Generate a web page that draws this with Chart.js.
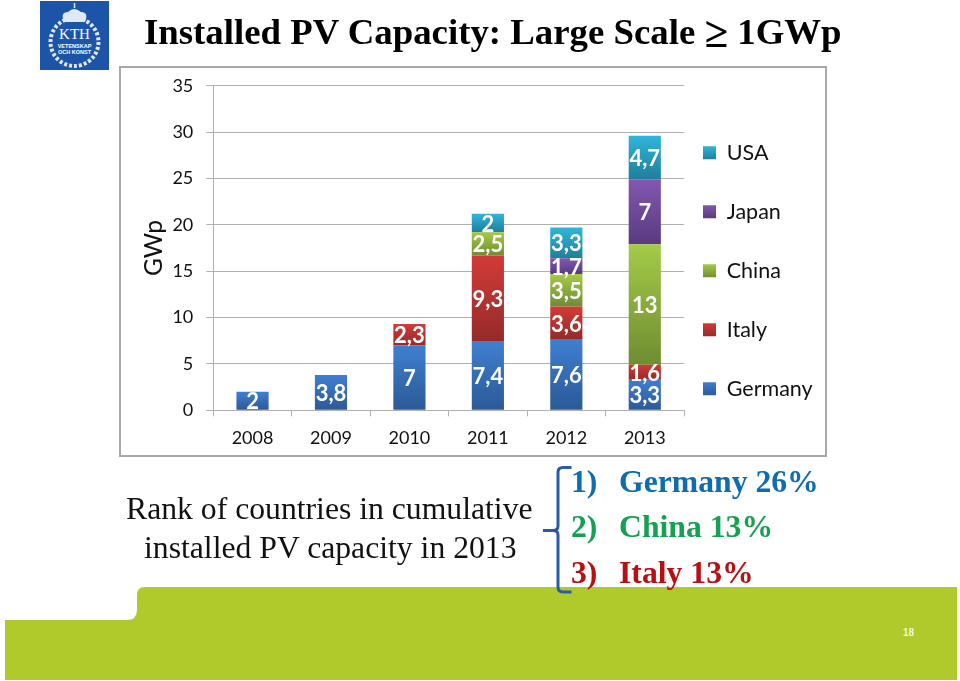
<!DOCTYPE html>
<html>
<head>
<meta charset="utf-8">
<title>Installed PV Capacity</title>
<script src="https://cdn.jsdelivr.net/npm/chart.js@4"></script>
<style>
  html, body { margin: 0; padding: 0; background: #fff; }
  #slide { position: relative; width: 960px; height: 681px; overflow: hidden; font-family: "Liberation Serif", serif; }
  #slide svg { position: absolute; left: 0; top: 0; }
  .txt { position: absolute; white-space: nowrap; line-height: 1; }
  #title { left: 144px; top: 14px; font-size: 36.8px; font-weight: bold; color: #000; }
  #title b { font-size: 43px; line-height: 0; position: relative; top: 3px; }
  #rank1 { left: 126px; top: 493px; font-size: 31.7px; color: #111; }
  #rank2 { left: 144px; top: 532px; font-size: 31.7px; color: #111; }
  .item { font-size: 31.7px; font-weight: bold; }
  .item span { position: absolute; left: 48px; }
  #page { left: 903px; top: 627px; font: bold 10px "Liberation Sans", sans-serif; color: #f6f8d0; }
  #frame { position: absolute; left: 119px; top: 66px; width: 704px; height: 387px; border: 2px solid #a8a8a8; background: #fff; box-sizing: content-box; }
  #frame canvas { display: block; }
</style>
</head>
<body>
<div id="slide">
  <svg width="960" height="681">
    <path d="M5 620 H127 Q137 620 137 610 V595 Q137 587 145 587 H957 V680 H5 Z" fill="#b0ca2b"/>
    <rect x="40" y="1" width="69" height="69" fill="#1c54a8"/>
    <circle cx="74.5" cy="42" r="24" fill="none" stroke="#dfe8f5" stroke-width="4" stroke-dasharray="3 2"/>
    <path d="M64 22 Q60 12 68 12 Q74 6 81 12 Q89 12 85 22 Z" fill="#dfe8f5"/>
    <path d="M74.5 3 V8" stroke="#dfe8f5" stroke-width="1.5"/>
    <text x="74.5" y="39" text-anchor="middle" font-family="Liberation Serif" font-size="15" fill="#fff">KTH</text>
    <text x="74.5" y="47.5" text-anchor="middle" font-family="Liberation Sans" font-size="5.5" font-weight="bold" fill="#fff">VETENSKAP</text>
    <text x="74.5" y="53.5" text-anchor="middle" font-family="Liberation Sans" font-size="5.5" font-weight="bold" fill="#fff">OCH KONST</text>
  </svg>
  <div id="frame"><canvas id="chartPV" width="704" height="387"></canvas></div>
  <svg width="960" height="681" style="pointer-events:none">
    <path d="M571.5 467.5 H563 Q558 467.5 558 472 V526 Q558 530.5 553 530.5 H543 M553 530.5 Q558 530.5 558 535 V587 Q558 592 563 592 H571.5" fill="none" stroke="#2a5aa8" stroke-width="3"/>
  </svg>
  <div class="txt" id="title">Installed PV Capacity: Large Scale <b>≥</b> 1GWp</div>
  <div class="txt" id="rank1">Rank of countries in cumulative</div>
  <div class="txt" id="rank2">installed PV capacity in 2013</div>
  <div class="txt item" style="left:571px;top:466px;color:#0f6cb0">1)<span>Germany&nbsp;26%</span></div>
  <div class="txt item" style="left:571px;top:511px;color:#16a052">2)<span>China&nbsp;13%</span></div>
  <div class="txt item" style="left:571px;top:557px;color:#b80f12">3)<span>Italy&nbsp;13%</span></div>
  <div class="txt" id="page">18</div>
</div>
<script>
// --- Datos ---
const years = ['2008', '2009', '2010', '2011', '2012', '2013'];
const germany = [2, 3.8, 7, 7.4, 7.6, 3.3];
const italy = [null, null, 2.3, 9.3, 3.6, 1.6];
const china = [null, null, null, 2.5, 3.5, 13];
const japan = [null, null, null, null, 1.7, 7];
const usa = [null, null, null, 2, 3.3, 4.7];
const yTicks = [0, 5, 10, 15, 20, 25, 30, 35];

const seriesNames = ['Germany', 'Italy', 'China', 'Japan', 'USA'];
const seriesValues = [germany, italy, china, japan, usa];
const seriesTop = ['#3f7fd0', '#d23b38', '#a4cb48', '#8257b2', '#30b6da'];
const seriesBottom = ['#2b5996', '#942a28', '#6f8c32', '#593a7f', '#1f7e9a'];

const LABEL_FONT = 'Lato, Carlito, sans-serif';

// Base de cada segmento dentro de la pila
function stackBase(ds, i) {
    return seriesValues.slice(0, ds).reduce((sum, v) => sum + (v[i] || 0), 0);
}

function verticalGradient(ctx, top, bottom, ds) {
    const g = ctx.createLinearGradient(0, top, 0, bottom);
    g.addColorStop(0, seriesTop[ds]);
    g.addColorStop(1, seriesBottom[ds]);
    return g;
}

// Relleno con degradado por segmento
function segmentFill(context) {
    const ds = context.datasetIndex;
    const i = context.dataIndex;
    const y = context.chart.scales.y;
    if (i === undefined || !y) return seriesTop[ds];
    const base = stackBase(ds, i);
    const top = y.getPixelForValue(base + (seriesValues[ds][i] || 0));
    const bottom = y.getPixelForValue(base);
    // La leyenda pide el estilo antes de que exista la escala
    if (!isFinite(top) || !isFinite(bottom)) return seriesTop[ds];
    return verticalGradient(context.chart.ctx, top, bottom, ds);
}

// Etiquetas blancas dentro de las barras, con coma decimal
const barLabels = {
    id: 'barLabels',
    afterDatasetsDraw(chart) {
        const ctx = chart.ctx;
        ctx.save();
        ctx.font = 'bold 22px ' + LABEL_FONT;
        ctx.fillStyle = '#fff';
        ctx.textAlign = 'center';
        ctx.textBaseline = 'middle';
        seriesValues.forEach((values, ds) => {
            chart.getDatasetMeta(ds).data.forEach((bar, i) => {
                if (values[i] === null) return;
                const p = bar.getCenterPoint();
                ctx.fillText(String(values[i]).replace('.', ','), p.x, p.y + 1.5);
            });
        });
        ctx.restore();
    }
};

// Leyenda: ancho fijo, posición y degradado de las cajas
const legendTweaks = {
    id: 'legendTweaks',
    afterInit(chart) {
        const legend = chart.legend;
        const fit = legend.fit;
        legend.fit = function () {
            fit.call(this);
            this.width = 141;
        };
    },
    afterLayout(chart) {
        chart.legend.left -= 18.5;
        chart.legend.top += 1;
    },
    beforeDraw(chart) {
        const legend = chart.legend;
        legend.legendItems.forEach((item, n) => {
            const box = legend.legendHitBoxes[n];
            const mid = box.top + box.height / 2;
            item.fillStyle = verticalGradient(chart.ctx, mid - 7, mid + 7, item.datasetIndex);
        });
    }
};

new Chart(document.getElementById('chartPV'), {
    type: 'bar',
    data: {
        labels: years,
        datasets: seriesNames.map((name, ds) => ({
            label: name,
            data: seriesValues[ds],
            backgroundColor: segmentFill,
            barPercentage: 0.41,
            categoryPercentage: 1
        }))
    },
    plugins: [barLabels, legendTweaks],
    options: {
        responsive: false,
        animation: false,
        events: [],
        layout: { padding: { top: 17.7 } },
        plugins: {
            tooltip: { enabled: false },
            legend: {
                position: 'right',
                reverse: true,
                labels: {
                    boxWidth: 13,
                    boxHeight: 13,
                    padding: 37.5,
                    color: '#111',
                    font: { family: LABEL_FONT, size: 21.5 }
                }
            }
        },
        scales: {
            x: {
                stacked: true,
                afterFit(scale) { scale.height = 44.7; },
                grid: { drawOnChartArea: false, color: '#b0b0b0', tickLength: 6 },
                border: { color: '#b0b0b0' },
                ticks: { color: '#111', padding: 11, font: { family: LABEL_FONT, size: 18 } }
            },
            y: {
                stacked: true,
                min: yTicks[0],
                max: yTicks[yTicks.length - 1],
                afterFit(scale) {
                    scale.width = 92.3;
                    scale.paddingTop = 0;
                    scale.paddingBottom = 0;
                },
                grid: { color: '#b0b0b0', tickLength: 7 },
                border: { color: '#b0b0b0' },
                title: {
                    display: true,
                    text: 'GWp',
                    color: '#111',
                    padding: { top: 18, bottom: 0 },
                    font: { family: LABEL_FONT, size: 24.5 }
                },
                ticks: {
                    stepSize: 5,
                    color: '#111',
                    padding: 13,
                    font: { family: LABEL_FONT, size: 18 }
                }
            }
        }
    }
});
</script>
</body>
</html>
